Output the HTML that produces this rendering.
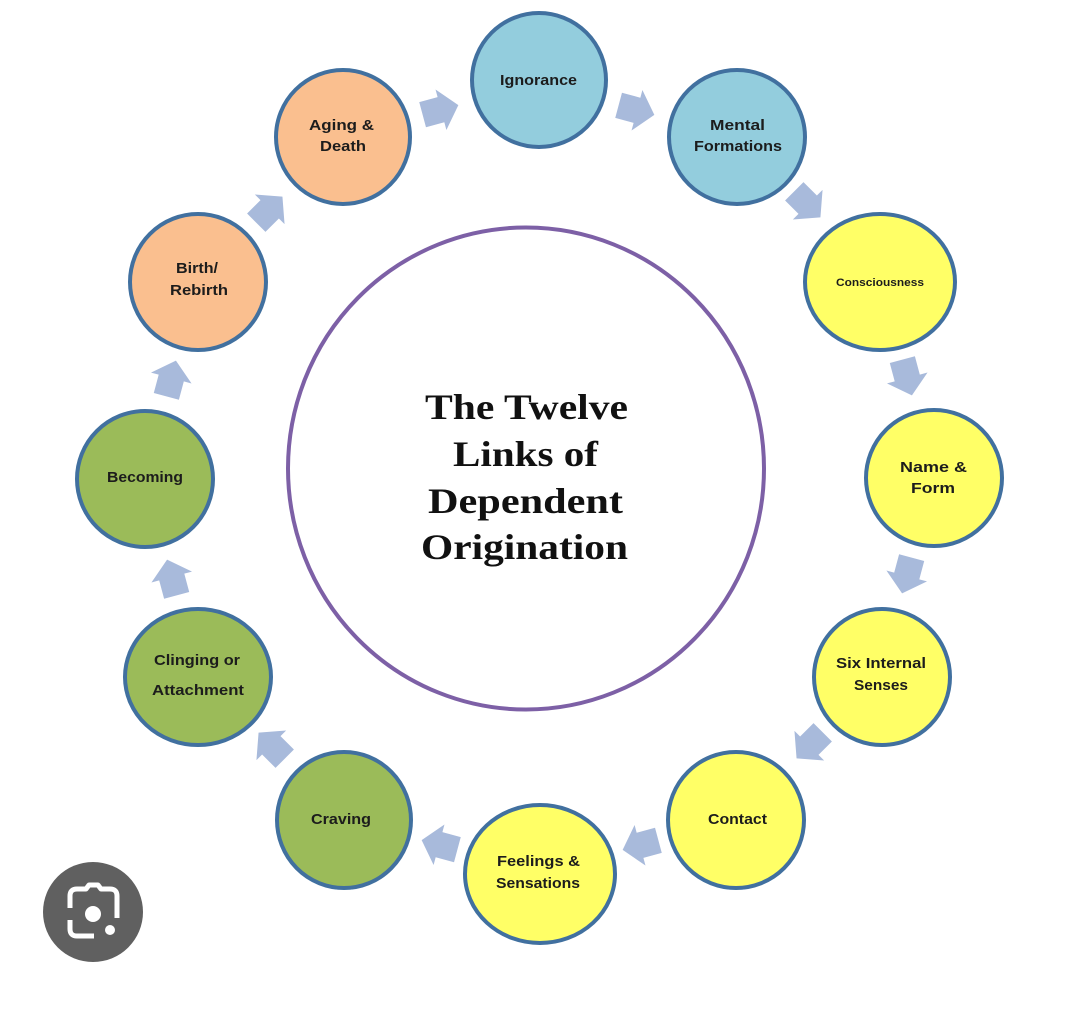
<!DOCTYPE html>
<html>
<head>
<meta charset="utf-8">
<style>
  html,body{margin:0;padding:0;background:#ffffff;}
  svg{display:block;}
  .lbl{font-family:"Liberation Sans",sans-serif;font-weight:bold;font-size:15px;fill:#1c1c1c;}
  .ttl{font-family:"Liberation Serif",serif;font-weight:bold;font-size:36px;fill:#111;}
</style>
</head>
<body>
<svg width="1080" height="1015" viewBox="0 0 1080 1015" xmlns="http://www.w3.org/2000/svg">
  <rect width="1080" height="1015" fill="#ffffff"/>

  <!-- central purple circle -->
  <ellipse cx="526" cy="468.5" rx="238" ry="241" fill="#ffffff" stroke="#7d60a6" stroke-width="4"/>

  <!-- title -->
  <text class="ttl" x="425" y="419" textLength="203" lengthAdjust="spacingAndGlyphs">The Twelve</text>
  <text class="ttl" x="453" y="466" textLength="145" lengthAdjust="spacingAndGlyphs">Links of</text>
  <text class="ttl" x="428" y="513" textLength="195" lengthAdjust="spacingAndGlyphs">Dependent</text>
  <text class="ttl" x="421" y="559" textLength="207" lengthAdjust="spacingAndGlyphs">Origination</text>

  <!-- arrows -->
  <defs>
    <polygon id="arr" points="-18,-13 1,-13 1,-21 19,0 1,21 1,13 -18,13" fill="#a8badb"/>
  </defs>
  <use href="#arr" transform="translate(636,110) rotate(15)"/>
  <use href="#arr" transform="translate(807,204) rotate(45)"/>
  <use href="#arr" transform="translate(907,377) rotate(75)"/>
  <use href="#arr" transform="translate(907,575) rotate(105)"/>
  <use href="#arr" transform="translate(810,745) rotate(135)"/>
  <use href="#arr" transform="translate(641,845) rotate(165)"/>
  <use href="#arr" transform="translate(440,845) rotate(195)"/>
  <use href="#arr" transform="translate(272,746) rotate(225)"/>
  <use href="#arr" transform="translate(172,578) rotate(255)"/>
  <use href="#arr" transform="translate(171,379) rotate(285)"/>
  <use href="#arr" transform="translate(269,210) rotate(315)"/>
  <use href="#arr" transform="translate(440,110) rotate(345)"/>

  <!-- nodes -->
  <g stroke="#41709f" stroke-width="4">
    <ellipse cx="539" cy="80" rx="67" ry="67" fill="#93cddd"/>
    <ellipse cx="737" cy="137" rx="68" ry="67" fill="#93cddd"/>
    <ellipse cx="880" cy="282" rx="75" ry="68" fill="#ffff66"/>
    <ellipse cx="934" cy="478" rx="68" ry="68" fill="#ffff66"/>
    <ellipse cx="882" cy="677" rx="68" ry="68" fill="#ffff66"/>
    <ellipse cx="736" cy="820" rx="68" ry="68" fill="#ffff66"/>
    <ellipse cx="540" cy="874" rx="75" ry="69" fill="#ffff66"/>
    <ellipse cx="344" cy="820" rx="67" ry="68" fill="#9bbb59"/>
    <ellipse cx="198" cy="677" rx="73" ry="68" fill="#9bbb59"/>
    <ellipse cx="145" cy="479" rx="68" ry="68" fill="#9bbb59"/>
    <ellipse cx="198" cy="282" rx="68" ry="68" fill="#fabf8f"/>
    <ellipse cx="343" cy="137" rx="67" ry="67" fill="#fabf8f"/>
  </g>

  <!-- labels -->
  <text class="lbl" x="500" y="85" textLength="77" lengthAdjust="spacingAndGlyphs">Ignorance</text>

  <text class="lbl" x="710" y="130" textLength="55" lengthAdjust="spacingAndGlyphs">Mental</text>
  <text class="lbl" x="694" y="151" textLength="88" lengthAdjust="spacingAndGlyphs">Formations</text>

  <text class="lbl" x="836" y="286" style="font-size:11px" textLength="88" lengthAdjust="spacingAndGlyphs">Consciousness</text>

  <text class="lbl" x="900" y="472" textLength="67" lengthAdjust="spacingAndGlyphs">Name &amp;</text>
  <text class="lbl" x="911" y="493" textLength="44" lengthAdjust="spacingAndGlyphs">Form</text>

  <text class="lbl" x="836" y="668" textLength="90" lengthAdjust="spacingAndGlyphs">Six Internal</text>
  <text class="lbl" x="854" y="690" textLength="54" lengthAdjust="spacingAndGlyphs">Senses</text>

  <text class="lbl" x="708" y="824" textLength="59" lengthAdjust="spacingAndGlyphs">Contact</text>

  <text class="lbl" x="497" y="866" textLength="83" lengthAdjust="spacingAndGlyphs">Feelings &amp;</text>
  <text class="lbl" x="496" y="888" textLength="84" lengthAdjust="spacingAndGlyphs">Sensations</text>

  <text class="lbl" x="311" y="824" textLength="60" lengthAdjust="spacingAndGlyphs">Craving</text>

  <text class="lbl" x="154" y="665" textLength="86" lengthAdjust="spacingAndGlyphs">Clinging  or</text>
  <text class="lbl" x="152" y="695" textLength="92" lengthAdjust="spacingAndGlyphs">Attachment</text>

  <text class="lbl" x="107" y="482" textLength="76" lengthAdjust="spacingAndGlyphs">Becoming</text>

  <text class="lbl" x="176" y="273" textLength="42" lengthAdjust="spacingAndGlyphs">Birth/</text>
  <text class="lbl" x="170" y="295" textLength="58" lengthAdjust="spacingAndGlyphs">Rebirth</text>

  <text class="lbl" x="309" y="130" textLength="65" lengthAdjust="spacingAndGlyphs">Aging &amp;</text>
  <text class="lbl" x="320" y="151" textLength="46" lengthAdjust="spacingAndGlyphs">Death</text>

  <!-- lens / camera icon -->
  <circle cx="93" cy="912" r="50" fill="#606060"/>
  <g fill="none" stroke="#ffffff" stroke-width="5" stroke-linecap="butt" stroke-linejoin="round">
    <path d="M70,908 V896 Q70,889 77,889 H86 L89,885 H98 L101,889 H110 Q117,889 117,896 V918"/>
    <path d="M70,920 V929 Q70,936 77,936 H94"/>
  </g>
  <circle cx="93" cy="914" r="8" fill="#ffffff"/>
  <circle cx="110" cy="930" r="5" fill="#ffffff"/>
</svg>
</body>
</html>
